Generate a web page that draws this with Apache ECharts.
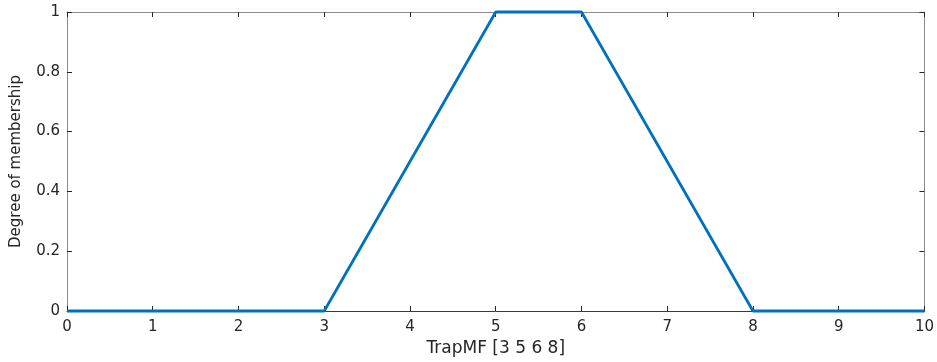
<!DOCTYPE html>
<html>
<head>
<meta charset="utf-8">
<script src="https://cdn.jsdelivr.net/npm/echarts@6/dist/echarts.min.js"></script>
<style>html,body{margin:0;padding:0;background:#fff}#c{width:937px;height:362px}</style>
</head>
<body>
<div id="c"></div>
<script>
const xValues = [0, 3, 5, 6, 8, 10];
const yValues = [0, 0, 1, 1, 0, 0];
const xLabel = 'TrapMF [3 5 6 8]';
const yLabel = 'Degree of membership';

const font = 'DejaVu Sans, Liberation Sans, Arial, sans-serif';
const axisCol = '#262626';
const frameCol = '#8a8a8a';
const chart = echarts.init(document.getElementById('c'), null, {renderer: 'canvas'});
const tickStyle = {show: true, inside: true, length: 5, lineStyle: {color: axisCol, width: 1}};
chart.setOption({
  animation: false,
  grid: {left: 67, top: 12, right: 12, bottom: 51, show: false},
  xAxis: [{
    type: 'value', min: 0, max: 10, interval: 1, position: 'bottom',
    name: xLabel, nameLocation: 'middle', nameGap: 29,
    nameTextStyle: {fontFamily: font, fontSize: 17, color: axisCol},
    axisLine: {show: true, onZero: false, lineStyle: {color: '#3a3a3a'}},
    axisTick: tickStyle,
    axisLabel: {fontFamily: font, fontSize: 15, color: axisCol, margin: 9},
    splitLine: {show: false}
  }, {
    type: 'value', min: 0, max: 10, interval: 1, position: 'top',
    axisLine: {show: true, onZero: false, lineStyle: {color: frameCol}},
    axisTick: tickStyle, axisLabel: {show: false}, splitLine: {show: false}
  }],
  yAxis: [{
    type: 'value', min: 0, max: 1, interval: 0.2, position: 'left',
    name: yLabel, nameLocation: 'middle', nameGap: 43,
    nameTextStyle: {fontFamily: font, fontSize: 15, color: axisCol},
    axisLine: {show: true, onZero: false, lineStyle: {color: frameCol}},
    axisTick: tickStyle,
    axisLabel: {fontFamily: font, fontSize: 15, color: axisCol, margin: 7},
    splitLine: {show: false}
  }, {
    type: 'value', min: 0, max: 1, interval: 0.2, position: 'right',
    axisLine: {show: true, onZero: false, lineStyle: {color: frameCol}},
    axisTick: tickStyle, axisLabel: {show: false}, splitLine: {show: false}
  }],
  series: [{
    type: 'line', xAxisIndex: 0, yAxisIndex: 0,
    data: xValues.map((x, i) => [x, yValues[i]]),
    showSymbol: false, symbol: 'none',
    lineStyle: {color: '#0072BD', width: 2.8},
    clip: false
  }]
});
</script>
</body>
</html>
